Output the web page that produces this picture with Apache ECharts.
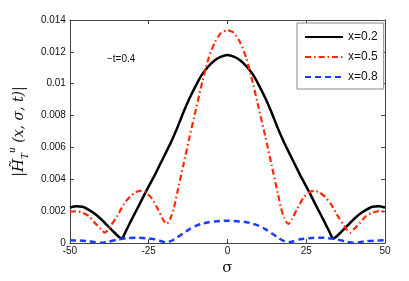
<!DOCTYPE html>
<html><head><meta charset="utf-8">
<script src="https://cdn.jsdelivr.net/npm/echarts@6/dist/echarts.min.js"></script>
<style>html,body{margin:0;padding:0;background:#fff}#c{width:409px;height:281px}</style>
</head><body><div id="c"></div>
<script>
var seriesNames = ['x=0.2', 'x=0.5', 'x=0.8'];
var xTicks = [-50, -25, 0, 25, 50];
var yTicks = [0, 0.002, 0.004, 0.006, 0.008, 0.01, 0.012, 0.014];

var blackSigma = [-50,-48,-46,-44,-42,-40,-38,-36,-34.5,-33.5,-32.5,-31,-28,-26,-23,-20,-18,-16,-14,-12,-10,-8,-6,-4,-2,0,
  2,4,6,8,10,12,14,16,18,20,23,26,28,31,32.5,33.5,34.5,36,38,40,42,44,46,48,50];
var blackVals = [0.00223,0.00232,0.00228,0.00208,0.00182,0.00148,0.00108,0.00068,0.00040,0.00028,0.00065,0.00125,0.00240,0.00318,0.0043,0.0055,0.0063,0.0072,0.0082,0.0091,0.0099,0.0106,0.0111,0.01148,0.0117,0.0118,
  0.0117,0.01148,0.0111,0.0106,0.0099,0.0091,0.0082,0.0072,0.0063,0.0055,0.0043,0.00318,0.00240,0.00125,0.00065,0.00028,0.00040,0.00068,0.00108,0.00148,0.00182,0.00208,0.00228,0.00232,0.00223];

var redSigma = [-50,-48,-46,-44,-42,-40,-39,-38,-37,-35,-33,-31,-29,-27.5,-26,-24,-22,-20.5,-19.3,-18,-17,-16,-14,-12,-10,-8,-6,-4,-2,0,
  2,4,6,8,10,12,14,16,17,18,19.3,20.5,22,24,26,27.5,29,31,33,35,37,38,39,40,42,44,46,48,50];
var redVals = [0.00197,0.00200,0.0019,0.0017,0.00125,0.00085,0.00066,0.0008,0.0011,0.0017,0.0024,0.0029,0.0032,0.00328,0.0032,0.0028,0.0021,0.0015,0.0012,0.0016,0.0022,0.0031,0.0049,0.0067,0.0084,0.0101,0.0116,0.0126,0.0132,0.01335,
  0.0132,0.0126,0.0116,0.0101,0.0084,0.0067,0.0049,0.0031,0.0022,0.0016,0.0012,0.0015,0.0021,0.0028,0.0032,0.00328,0.0032,0.0029,0.0024,0.0017,0.0011,0.0008,0.00066,0.00085,0.00125,0.0017,0.0019,0.00200,0.00197];

var blueSigma = [-50,-47,-44,-42,-40,-38,-35,-32,-29,-26,-23,-21,-19.5,-18,-16,-14,-12,-10,-8,-6,-4,-2,0,
  2,4,6,8,10,12,14,16,18,19.5,21,23,26,29,32,35,38,40,42,44,47,50];
var blueVals = [0.00018,0.00016,0.00012,0.00006,0.00002,0.00008,0.00022,0.00031,0.00034,0.00031,0.00024,0.00012,0.00005,0.00012,0.00035,0.00062,0.00088,0.00108,0.00122,0.00131,0.00136,0.00139,0.0014,
  0.00139,0.00136,0.00131,0.00122,0.00108,0.00088,0.00062,0.00035,0.00012,0.00005,0.00012,0.00024,0.00031,0.00034,0.00031,0.00022,0.00008,0.00002,0.00006,0.00012,0.00016,0.00018];

function zip(a, b) { return a.map(function (v, i) { return [v, b[i]]; }); }

var chart = echarts.init(document.getElementById('c'), null, {renderer: 'canvas'});
var axisCol = '#444';
var lab = {fontFamily: 'Liberation Sans, Arial, sans-serif', fontSize: 10, color: '#111'};
chart.setOption({
  animation: false,
  backgroundColor: '#fff',
  grid: {left: 68, right: 24, top: 20, bottom: 33},
  legend: {
    orient: 'vertical', left: 297, top: 23,
    padding: [8, 6, 6, 7], itemGap: 8, itemWidth: 38, itemHeight: 12,
    borderColor: '#888', borderWidth: 1, borderRadius: 0, backgroundColor: '#fff',
    itemStyle: {opacity: 0},
    textStyle: {fontFamily: 'Liberation Sans, Arial, sans-serif', fontSize: 12, color: '#111'},
    data: seriesNames
  },
  xAxis: [{
    type: 'value', min: xTicks[0], max: xTicks[xTicks.length - 1], interval: 25,
    axisLine: {onZero: false, lineStyle: {color: axisCol}}, axisTick: {inside: true, length: 4, lineStyle: {color: axisCol}},
    splitLine: {show: false}, axisLabel: Object.assign({margin: 3}, lab),
    name: 'σ', nameLocation: 'middle', nameGap: 17,
    nameTextStyle: {fontFamily: 'DejaVu Serif, serif', fontSize: 15, color: '#111'}
  }, {
    type: 'value', position: 'top', min: -50, max: 50, interval: 25,
    axisLine: {show: true, onZero: false, lineStyle: {color: axisCol}}, axisTick: {inside: true, length: 4, lineStyle: {color: axisCol}},
    axisLabel: {show: false}, splitLine: {show: false}
  }],
  yAxis: [{
    type: 'value', min: yTicks[0], max: yTicks[yTicks.length - 1], interval: 0.002,
    axisLine: {show: true, onZero: false, lineStyle: {color: axisCol}}, axisTick: {inside: true, length: 4, lineStyle: {color: axisCol}},
    splitLine: {show: false},
    axisLabel: Object.assign({margin: 4, formatter: function (v) { return String(+v.toFixed(3)); }}, lab),
    name: '{a||}{h|H̃}{s|T}{u|u}{a| (x, σ, t)|}', nameLocation: 'middle', nameGap: 37, nameRotate: 90,
    nameTextStyle: {
      color: '#111',
      rich: {
        a: {fontFamily: 'DejaVu Serif, serif', fontStyle: 'italic', fontSize: 14, color: '#111', lineHeight: 22},
        h: {fontFamily: 'DejaVu Serif, serif', fontStyle: 'italic', fontSize: 15, color: '#111', lineHeight: 22},
        s: {fontFamily: 'DejaVu Serif, serif', fontStyle: 'italic', fontSize: 9, color: '#111', verticalAlign: 'bottom', lineHeight: 22},
        u: {fontFamily: 'DejaVu Serif, serif', fontStyle: 'italic', fontSize: 9, color: '#111', verticalAlign: 'top', lineHeight: 22}
      }
    }
  }, {
    type: 'value', position: 'right', min: 0, max: 0.014, interval: 0.002,
    axisLine: {show: true, onZero: false, lineStyle: {color: axisCol}}, axisTick: {inside: true, length: 4, lineStyle: {color: axisCol}},
    axisLabel: {show: false}, splitLine: {show: false}
  }],
  graphic: [{
    type: 'text', left: 107, top: 54,
    style: {text: '−t=0.4', fontFamily: 'Liberation Sans, Arial, sans-serif', fontSize: 10, fill: '#111'}
  }],
  series: [{
    name: seriesNames[0], type: 'line', data: zip(blackSigma, blackVals), symbol: 'none', smooth: 0.2,
    lineStyle: {color: '#000', width: 2.5}, itemStyle: {color: '#000'}
  }, {
    name: seriesNames[1], type: 'line', data: zip(redSigma, redVals), symbol: 'none', smooth: 0.25,
    lineStyle: {color: '#ff2a00', width: 2.2, type: [6, 3, 1.5, 3]}, itemStyle: {color: '#ff2a00'}
  }, {
    name: seriesNames[2], type: 'line', data: zip(blueSigma, blueVals), symbol: 'none', smooth: 0.25,
    lineStyle: {color: '#1a3cff', width: 2.5, type: [6, 4]}, itemStyle: {color: '#1a3cff'}
  }]
});
</script></body></html>
